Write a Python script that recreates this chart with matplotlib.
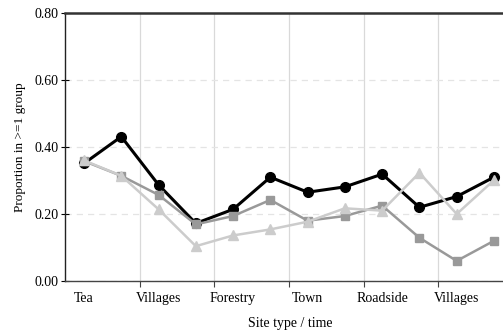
import matplotlib
matplotlib.use("Agg")
import matplotlib.pyplot as plt
import numpy as np

# Proportion of individuals seen in at least one group, by site type and time
site_labels = ["Tea", "Villages", "Forestry", "Town", "Roadside", "Villages"]
black_series = [0.351, 0.431, 0.287, 0.172, 0.214, 0.310,
                0.265, 0.281, 0.319, 0.220, 0.252, 0.310]
dark_series = [0.358, 0.314, 0.257, 0.169, 0.194, 0.242,
               0.180, 0.194, 0.225, 0.129, 0.060, 0.120]
light_series = [0.360, 0.314, 0.214, 0.104, 0.136, 0.154,
                0.177, 0.217, 0.210, 0.323, 0.200, 0.301]
y_ticks = [0.0, 0.2, 0.4, 0.6, 0.8]

plt.rcParams["font.family"] = ["Liberation Serif", "DejaVu Serif"]

fig = plt.figure(figsize=(5.03, 3.33), dpi=100)
W, H = 503, 333
left, right, top, bottom = 65.4, 512.6, 13, 281
ax = fig.add_axes([left / W, 1 - bottom / H, (right - left) / W, (bottom - top) / H])

x = np.arange(len(black_series))

ax.plot(x, black_series, color="black", lw=2.2, marker="o", ms=7, zorder=3)
ax.plot(x, dark_series, color="#999999", lw=1.8, marker="s", ms=6, zorder=4)
ax.plot(x, light_series, color="#cccccc", lw=1.8, marker="^", ms=6.5, zorder=5)

ax.set_xlim(-0.5, 11.5)
ax.set_ylim(0, 0.8)

# group boundaries: major ticks with gridlines, site names on minor ticks
bounds = np.arange(1.5, 11, 2)
ax.set_xticks(bounds)
ax.set_xticklabels([])
ax.set_xticks(np.arange(0, 12, 2), minor=True)
ax.set_xticklabels(site_labels, minor=True)
ax.tick_params(axis="x", which="major", direction="out", length=4, width=0.8,
               color="#444444")
ax.tick_params(axis="x", which="minor", length=0, pad=8, labelsize=10)
ax.grid(axis="x", which="major", color="#d9d9d9", lw=0.9, ls="-", zorder=0)

ax.set_yticks(y_ticks)
ax.set_yticklabels([f"{v:.2f}" for v in y_ticks])
ax.tick_params(axis="y", direction="inout", length=6, width=0.8, labelsize=10, pad=2)
ax.grid(axis="y", color="#e4e4e4", lw=0.9, ls=(0, (5, 4)), zorder=0)

ax.spines["right"].set_visible(False)
ax.spines["top"].set_color("#333333")
ax.spines["top"].set_linewidth(1.8)
ax.spines["left"].set_color("#222222")
ax.spines["left"].set_linewidth(1.0)
ax.spines["bottom"].set_color("#444444")
ax.spines["bottom"].set_linewidth(1.0)

ax.set_xlabel("Site type / time", fontsize=10, labelpad=8)
ax.set_ylabel("Proportion in >=1 group", fontsize=9.5, labelpad=6)
ax.xaxis.set_label_coords((290 - left) / (right - left), -0.135)

fig.savefig("out.png", dpi=100)
